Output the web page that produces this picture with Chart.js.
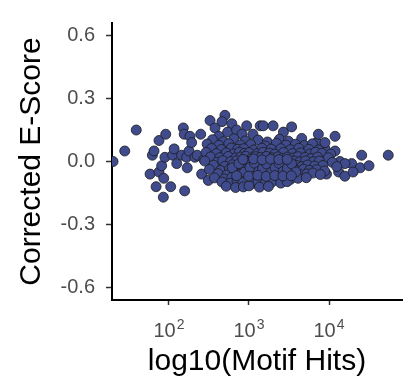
<!DOCTYPE html>
<html>
<head>
<meta charset="utf-8">
<script src="https://cdn.jsdelivr.net/npm/chart.js@4/dist/chart.umd.min.js"></script>
<style>
  html, body { margin: 0; padding: 0; background: #fff; }
  #wrap { width: 412px; height: 390px; }
</style>
</head>
<body>
<div id="wrap"><canvas id="chart" width="412" height="390"></canvas></div>
<script>
// motif hits (x) and corrected e-score (y)
let motifHits = [
  // sparse left side
  20, 28, 39, 58, 62, 65, 69, 75, 75, 81, 85, 86, 89, 91, 105, 111, 116, 125,
  144, 151, 155, 157, 166, 169, 178, 183, 192, 211, 225, 249, 256, 273, 310,
  // upper edge and right tail
  326, 376, 420, 500, 460, 610, 540, 700, 935, 820, 1120, 1380, 1510, 2000,
  2690, 3410, 4560, 5270, 7000, 7360, 8920, 11900, 11900, 8900, 25600, 55000,
  13700, 19200, 24500, 31600, 15800, 13200, 15800, 20000, 9300,
  // dense core, by rows
  350, 480, 650, 900, 1300, 1700, 2400, 3100,
  300, 420, 560, 780, 1050, 1600, 2200, 2900, 3800, 4900, 6200,
  340, 450, 600, 720, 860, 1150, 1450, 1900, 2500, 3300, 4200, 5600, 7400,
  290, 390, 520, 640, 760, 880, 1000, 1250, 1500, 1800, 2100, 2700, 3500, 4400, 5800, 6800, 8200, 10500,
  330, 430, 550, 680, 790, 910, 1080, 1200, 1400, 1650, 1950, 2300, 2600, 3000, 3600, 4100, 5000, 6000, 7200, 9800,
  280, 400, 470, 590, 700, 820, 950, 1100, 1250, 1380, 1550, 1750, 2000, 2250, 2550, 2850, 3200, 3700, 4300, 5100, 6400, 7600, 11000,
  360, 500, 620, 740, 850, 980, 1120, 1300, 1450, 1620, 1850, 2050, 2350, 2650, 3050, 3450, 3900, 4600, 5400, 6600, 8400, 12500,
  320, 440, 570, 690, 800, 930, 1050, 1180, 1330, 1500, 1700, 1900, 2150, 2450, 2750, 3100, 3550, 4000, 4800, 5700, 7000, 8800,
  410, 530, 660, 780, 900, 1020, 1160, 1350, 1580, 1820, 2080, 2400, 2800, 3250, 3800, 4500, 5300, 6300, 7800,
  370, 490, 610, 730, 870, 1000, 1200, 1420, 1680, 2000, 2300, 2700, 3300, 4100, 5200,
  460, 580, 710, 840, 1080, 1300, 1600, 1920, 2500, 3000,
  520, 680, 850, 1000, 1350, 1750,
  // extra core points, between the rows
  620, 750, 880, 1030, 1170, 1320, 1480, 1660, 1880, 2120, 2380, 2680, 3020, 3400, 3850,
  700, 840, 990, 1140, 1290, 1460, 1640, 1860, 2100, 2360, 2660, 3000, 3380
]
let eScores = [
  0.00, 0.05, 0.15, -0.06, 0.03, 0.05, -0.12, 0.10, -0.05, -0.02, -0.17, -0.08, 0.02, 0.13, -0.12, 0.03, 0.06, -0.01,
  0.03, 0.16, 0.13, -0.14, 0.02, -0.03, 0.05, 0.12, 0.09, 0.02, 0.03, 0.13, -0.06, 0.01, -0.09,
  0.195, 0.16, 0.12, 0.22, 0.19, 0.18, 0.14, 0.15, 0.17, 0.13, 0.13, 0.17, 0.17, 0.17,
  0.14, 0.165, 0.11, 0.07, 0.09, 0.13, 0.06, 0.12, 0.05, 0.09, 0.03, 0.03,
  0.00, -0.01, -0.03, -0.02, -0.01, -0.05, -0.07, -0.05, -0.06,
  0.104, 0.095, 0.108, 0.098, 0.102, 0.093, 0.106, 0.097,
  0.083, 0.077, 0.085, 0.079, 0.081, 0.074, 0.087, 0.078, 0.082, 0.076, 0.084,
  0.062, 0.057, 0.064, 0.058, 0.061, 0.055, 0.063, 0.059, 0.061, 0.056, 0.063, 0.058, 0.055,
  0.043, 0.038, 0.041, 0.036, 0.044, 0.039, 0.042, 0.037, 0.044, 0.040, 0.035, 0.043, 0.038, 0.041, 0.036, 0.044, 0.039, 0.035,
  0.022, 0.018, 0.024, 0.017, 0.021, 0.025, 0.016, 0.023, 0.019, 0.024, 0.018, 0.022, 0.015, 0.021, 0.017, 0.023, 0.019, 0.014, 0.021, 0.018,
  0.002, -0.003, 0.004, -0.001, 0.003, -0.004, 0.001, 0.005, -0.002, 0.003, -0.005, 0.002, -0.001, 0.004, -0.003, 0.001, -0.004, 0.002, -0.002, 0.003, -0.001, 0.002, -0.004,
  -0.018, -0.023, -0.016, -0.021, -0.025, -0.017, -0.022, -0.019, -0.024, -0.016, -0.021, -0.018, -0.025, -0.020, -0.016, -0.023, -0.019, -0.024, -0.017, -0.022, -0.019, -0.024,
  -0.038, -0.043, -0.036, -0.041, -0.045, -0.037, -0.042, -0.039, -0.044, -0.036, -0.041, -0.038, -0.045, -0.040, -0.036, -0.043, -0.039, -0.044, -0.037, -0.042, -0.039, -0.045,
  -0.058, -0.064, -0.056, -0.061, -0.065, -0.057, -0.062, -0.059, -0.064, -0.056, -0.061, -0.058, -0.065, -0.060, -0.057, -0.063, -0.059, -0.055, -0.062,
  -0.078, -0.083, -0.076, -0.081, -0.085, -0.077, -0.082, -0.079, -0.084, -0.076, -0.081, -0.078, -0.085, -0.080, -0.077,
  -0.098, -0.104, -0.096, -0.101, -0.105, -0.097, -0.102, -0.099, -0.103, -0.096,
  -0.118, -0.124, -0.121, -0.116, -0.122, -0.119,
  -0.030, -0.010, -0.050, -0.028, -0.008, -0.048, -0.032, -0.012, -0.052, -0.029, -0.009, -0.047, -0.031, -0.011, -0.050,
  -0.068, 0.010, -0.070, 0.012, -0.066, 0.008, -0.071, 0.011, -0.067, 0.009, -0.069, 0.010, -0.068
]
let xTicks = [100, 1000, 10000]
let xTickBase = "10"
let xTickPowers = ["2", "3", "4"]
let yTicks = [-0.6, -0.3, 0.0, 0.3, 0.6]
let yTickLabels = ["-0.6", "-0.3", "0.0", "0.3", "0.6"]

let points = motifHits.map((h, i) => ({ x: h, y: eScores[i] }))

let family = "'Liberation Sans', Arial, sans-serif"
let tickFont = { family: family, size: 20 }
let titleFont = { family: family, size: 30, lineHeight: 1 }

// draws 10^n labels with a real raised exponent
let powerLabels = {
    id: 'powerLabels',
    afterDraw(chart) {
        let ctx = chart.ctx
        let xs = chart.scales.x
        ctx.save()
        ctx.fillStyle = '#4d4d4d'
        ctx.textBaseline = 'alphabetic'
        xTicks.forEach((v, i) => {
            let px = xs.getPixelForValue(v)
            ctx.font = `20px ${family}`
            let wBase = ctx.measureText(xTickBase).width
            ctx.font = `14px ${family}`
            let wPow = ctx.measureText(xTickPowers[i]).width
            let left = px - (wBase + wPow + 1) / 2
            ctx.font = `20px ${family}`
            ctx.textAlign = 'left'
            ctx.fillText(xTickBase, left, xs.top + 37)
            ctx.font = `14px ${family}`
            ctx.fillText(xTickPowers[i], left + wBase + 1, xs.top + 29)
        })
        ctx.restore()
    }
}

let config = {
    type: 'scatter',
    data: {
        datasets: [{
            data: points,
            backgroundColor: '#3f4b8c',
            borderColor: '#1c1c1c',
            borderWidth: 0.8,
            pointRadius: 5,
            pointHoverRadius: 5
        }]
    },
    options: {
        responsive: false,
        animation: false,
        events: [],
        layout: { padding: { top: 13, right: 10, left: 0, bottom: 0 } },
        plugins: { legend: { display: false }, tooltip: { enabled: false } },
        scales: {
            x: {
                type: 'logarithmic',
                min: 19.4,
                max: 81700,
                afterBuildTicks: (scale) => { scale.ticks = xTicks.map(v => ({ value: v })) },
                afterFit: (scale) => { scale.height = 90 },
                ticks: {
                    color: 'rgba(0,0,0,0)',
                    font: tickFont,
                    padding: 10,
                    autoSkip: false,
                    maxRotation: 0,
                    callback: (v) => xTickBase + xTickPowers[xTicks.indexOf(v)]
                },
                grid: { drawOnChartArea: false, drawTicks: true, tickLength: 5, tickWidth: 1.5, color: '#333' },
                border: { display: true, color: '#000', width: 2 },
                title: { display: true, text: 'log10(Motif Hits)', color: '#000', font: titleFont, padding: { top: 0, bottom: 13 } }
            },
            y: {
                min: -0.66,
                max: 0.66,
                afterBuildTicks: (scale) => { scale.ticks = yTicks.map(v => ({ value: v })) },
                afterFit: (scale) => { scale.width = 112 },
                ticks: {
                    color: '#4d4d4d',
                    font: tickFont,
                    padding: 11,
                    callback: (v) => yTickLabels[yTicks.indexOf(v)]
                },
                grid: { drawOnChartArea: false, drawTicks: true, tickLength: 6, tickWidth: 1.5, color: '#333' },
                border: { display: true, color: '#000', width: 2 },
                title: { display: true, text: 'Corrected E-Score', color: '#000', font: titleFont, padding: { top: 17, bottom: 0 } }
            }
        }
    },
    plugins: [powerLabels]
}

const myChart = new Chart(document.querySelector("#chart"), config)
</script>
</body>
</html>
